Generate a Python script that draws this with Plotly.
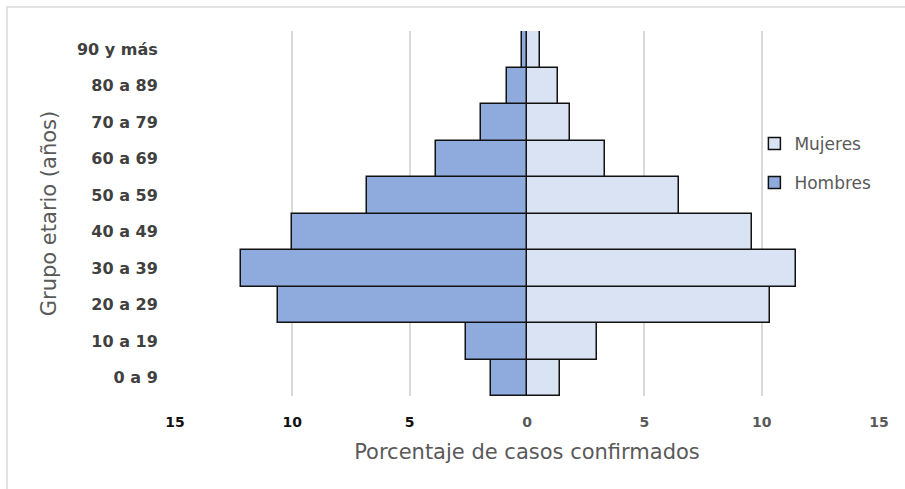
import plotly.graph_objects as go

grupos = ["0 a 9", "10 a 19", "20 a 29", "30 a 39", "40 a 49",
          "50 a 59", "60 a 69", "70 a 79", "80 a 89", "90 y más"]
hombres = [1.52, 2.62, 10.6, 12.2, 10.0, 6.8, 3.86, 1.94, 0.84, 0.21]
mujeres = [1.39, 2.98, 10.37, 11.45, 9.59, 6.48, 3.31, 1.82, 1.3, 0.57]

tick_vals = [-15, -10, -5, 0, 5, 10, 15]
tick_labels = ["15", "10", "5", "0", "5", "10", "15"]
tick_text = [
    f"<b><span style='color:{'#111111' if v < 0 else '#595959'}'>{t}</span></b>"
    for v, t in zip(tick_vals, tick_labels)
]

FONT = "DejaVu Sans"

fig = go.Figure()
fig.add_trace(go.Bar(
    y=grupos, x=mujeres, name="Mujeres", orientation="h",
    marker=dict(color="#dae3f3", line=dict(color="#111111", width=1.5)),
    legendgroup="m",
))
fig.add_trace(go.Bar(
    y=grupos, x=[-v for v in hombres], name="Hombres", orientation="h",
    marker=dict(color="#8faadc", line=dict(color="#111111", width=1.5)),
    legendgroup="h",
))

fig.update_layout(
    width=905, height=489,
    margin=dict(l=175, r=26, t=31, b=93),
    paper_bgcolor="white", plot_bgcolor="white",
    barmode="relative", bargap=0,
    font=dict(family=FONT, color="#595959"),
    showlegend=True,
    legend=dict(x=0.823, y=0.74, xanchor="left", yanchor="top",
                font=dict(size=17, color="#595959", family=FONT),
                traceorder="grouped", tracegroupgap=14,
                bgcolor="rgba(0,0,0,0)", itemwidth=30),
    xaxis=dict(range=[-15, 15], tickvals=tick_vals, ticktext=tick_text,
               showgrid=True, gridcolor="#d9d9d9", gridwidth=1.5,
               zeroline=False, showline=False, automargin=False,
               ticks="outside", ticklen=13, tickcolor="rgba(0,0,0,0)",
               tickfont=dict(size=14, color="#262626", family=FONT),
               title=dict(text="Porcentaje de casos confirmados",
                          font=dict(size=21, color="#595959", family=FONT),
                          standoff=15)),
    yaxis=dict(showgrid=False, zeroline=False, showline=False, automargin=False,
               ticks="outside", ticklen=13, tickcolor="rgba(0,0,0,0)",
               tickfont=dict(size=16, color="#404040", family=FONT),
               tickprefix="<b>", ticksuffix="</b>",
               title=dict(text="Grupo etario (años)",
                          font=dict(size=21, color="#595959", family=FONT),
                          standoff=14)),
    shapes=[dict(type="rect", xref="paper", yref="paper",
                 x0=(7 - 175) / 704, x1=(920 - 175) / 704,
                 y0=(396 - 500) / 365, y1=(396 - 7) / 365,
                 line=dict(color="#d9d9d9", width=1.5), layer="below")],
)

fig.write_html("out.html", config={"displayModeBar": False},
               post_script="document.body.style.margin='0';")
